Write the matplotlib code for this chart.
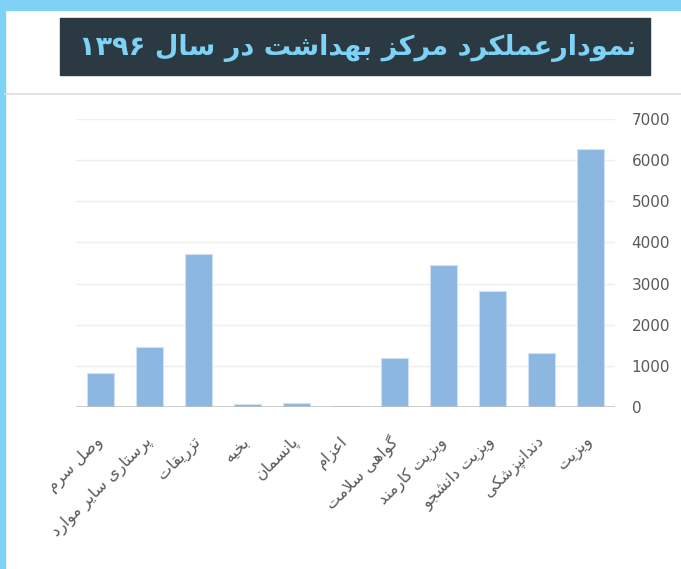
import matplotlib.pyplot as plt
import matplotlib.transforms as mtransforms
from matplotlib.patches import Rectangle

# data
categories = ['وصل سرم', 'پرستاری سایر موارد', 'تزریقات', 'بخیه', 'پانسمان', 'اعزام',
              'گواهی سلامت', 'ویزیت کارمند', 'ویزیت دانشجو', 'دندانپزشکی', 'ویزیت']
values = [835, 1460, 3720, 70, 100, 25, 1180, 3440, 2830, 1305, 6280]
yticks = [0, 1000, 2000, 3000, 4000, 5000, 6000, 7000]
title = 'نمودارعملکرد مرکز بهداشت در سال ۱۳۹۶'

# matplotlib has no Arabic shaping, so map letters to presentation forms
# (isolated, final, initial, medial)
FORMS = {
    'ء': (0xFE80, None, None, None),
    'آ': (0xFE81, 0xFE82, None, None),
    'أ': (0xFE83, 0xFE84, None, None),
    'ؤ': (0xFE85, 0xFE86, None, None),
    'إ': (0xFE87, 0xFE88, None, None),
    'ئ': (0xFE89, 0xFE8A, 0xFE8B, 0xFE8C),
    'ا': (0xFE8D, 0xFE8E, None, None),
    'ب': (0xFE8F, 0xFE90, 0xFE91, 0xFE92),
    'ة': (0xFE93, 0xFE94, None, None),
    'ت': (0xFE95, 0xFE96, 0xFE97, 0xFE98),
    'ث': (0xFE99, 0xFE9A, 0xFE9B, 0xFE9C),
    'ج': (0xFE9D, 0xFE9E, 0xFE9F, 0xFEA0),
    'ح': (0xFEA1, 0xFEA2, 0xFEA3, 0xFEA4),
    'خ': (0xFEA5, 0xFEA6, 0xFEA7, 0xFEA8),
    'د': (0xFEA9, 0xFEAA, None, None),
    'ذ': (0xFEAB, 0xFEAC, None, None),
    'ر': (0xFEAD, 0xFEAE, None, None),
    'ز': (0xFEAF, 0xFEB0, None, None),
    'س': (0xFEB1, 0xFEB2, 0xFEB3, 0xFEB4),
    'ش': (0xFEB5, 0xFEB6, 0xFEB7, 0xFEB8),
    'ص': (0xFEB9, 0xFEBA, 0xFEBB, 0xFEBC),
    'ض': (0xFEBD, 0xFEBE, 0xFEBF, 0xFEC0),
    'ط': (0xFEC1, 0xFEC2, 0xFEC3, 0xFEC4),
    'ظ': (0xFEC5, 0xFEC6, 0xFEC7, 0xFEC8),
    'ع': (0xFEC9, 0xFECA, 0xFECB, 0xFECC),
    'غ': (0xFECD, 0xFECE, 0xFECF, 0xFED0),
    'ف': (0xFED1, 0xFED2, 0xFED3, 0xFED4),
    'ق': (0xFED5, 0xFED6, 0xFED7, 0xFED8),
    'ل': (0xFEDD, 0xFEDE, 0xFEDF, 0xFEE0),
    'م': (0xFEE1, 0xFEE2, 0xFEE3, 0xFEE4),
    'ن': (0xFEE5, 0xFEE6, 0xFEE7, 0xFEE8),
    'ه': (0xFEE9, 0xFEEA, 0xFEEB, 0xFEEC),
    'و': (0xFEED, 0xFEEE, None, None),
    'پ': (0xFB56, 0xFB57, 0xFB58, 0xFB59),
    'چ': (0xFB7A, 0xFB7B, 0xFB7C, 0xFB7D),
    'ژ': (0xFB8A, 0xFB8B, None, None),
    'ک': (0xFB8E, 0xFB8F, 0xFB90, 0xFB91),
    'گ': (0xFB92, 0xFB93, 0xFB94, 0xFB95),
    'ی': (0xFBFC, 0xFBFD, 0xFBFE, 0xFBFF),
}
DIGITS = '۰۱۲۳۴۵۶۷۸۹0123456789'


def shape(text):
    out = []
    i = 0
    n = len(text)
    while i < n:
        c = text[i]
        if c not in FORMS:
            out.append(c)
            i += 1
            continue
        prev = text[i - 1] if i > 0 else ''
        prev_join = prev in FORMS and FORMS[prev][2] is not None
        if c == 'ل' and i + 1 < n and text[i + 1] == 'ا':
            out.append(chr(0xFEFC if prev_join else 0xFEFB))
            i += 2
            continue
        nxt = text[i + 1] if i + 1 < n else ''
        next_join = FORMS[c][2] is not None and nxt in FORMS and FORMS[nxt][1] is not None
        iso, fin, ini, med = FORMS[c]
        if prev_join and next_join:
            code = med
        elif prev_join:
            code = fin
        elif next_join:
            code = ini
        else:
            code = iso
        out.append(chr(code))
        i += 1
    # visual order: reverse, but keep digit runs left to right
    runs = []
    for ch in out:
        isdig = ch in DIGITS
        if runs and runs[-1][0] == isdig:
            runs[-1][1].append(ch)
        else:
            runs.append([isdig, [ch]])
    vis = ''
    for isdig, chars in reversed(runs):
        vis += ''.join(chars) if isdig else ''.join(reversed(chars))
    return vis


plt.rcParams['font.family'] = ['DejaVu Sans']

fig = plt.figure(figsize=(6.81, 5.69), dpi=100)

# light blue frame on top and left
fig.patches.append(Rectangle((0, 1 - 10 / 569), 1, 10 / 569, transform=fig.transFigure,
                             color='#7dd2f6', zorder=0))
fig.patches.append(Rectangle((0, 0), 5 / 681, 1, transform=fig.transFigure,
                             color='#7dd2f6', zorder=0))
# separator line under the title
fig.add_artist(plt.Line2D([5 / 681, 1], [1 - 93.5 / 569] * 2, transform=fig.transFigure,
                          color='#dedede', lw=1.2))

# title box
fig.patches.append(Rectangle((60 / 681, 1 - 75 / 569), 590 / 681, 57 / 569,
                             transform=fig.transFigure, color='#2b3a42', zorder=1))
fig.text(358 / 681, 1 - 48 / 569, shape(title), ha='center', va='center',
         fontsize=19.5, fontweight='bold', color='#7dd2f6', zorder=2)

ax = fig.add_axes([76 / 681, 162 / 569, 539 / 681, 288 / 569])
x = list(range(len(categories)))
ax.bar(x, values, width=0.56, color='#8cb7e1', edgecolor='#cfe2f5', linewidth=0.8, zorder=3)

ax.set_xlim(-0.5, len(categories) - 0.5)
ax.set_ylim(0, 7000)
ax.set_yticks(yticks)
ax.yaxis.tick_right()
ax.tick_params(axis='y', length=0, pad=12, labelsize=11, labelcolor='#595959')
ax.tick_params(axis='x', length=0, pad=19)
ax.set_xticks(x)
ax.set_xticklabels([shape(c) for c in categories], rotation=45, ha='right',
                   rotation_mode='anchor', fontsize=11.5, color='#595959')
# nudge the category labels a little to the left
shift = mtransforms.ScaledTranslation(-0.06, 0, fig.dpi_scale_trans)
for lab in ax.get_xticklabels():
    lab.set_transform(lab.get_transform() + shift)
ax.grid(axis='y', color='#eeeeee', lw=1, zorder=0)
for s in ax.spines.values():
    s.set_visible(False)
ax.axhline(0, color='#bfbfbf', lw=1.8, zorder=4)

fig.savefig('out.png', dpi=100)
